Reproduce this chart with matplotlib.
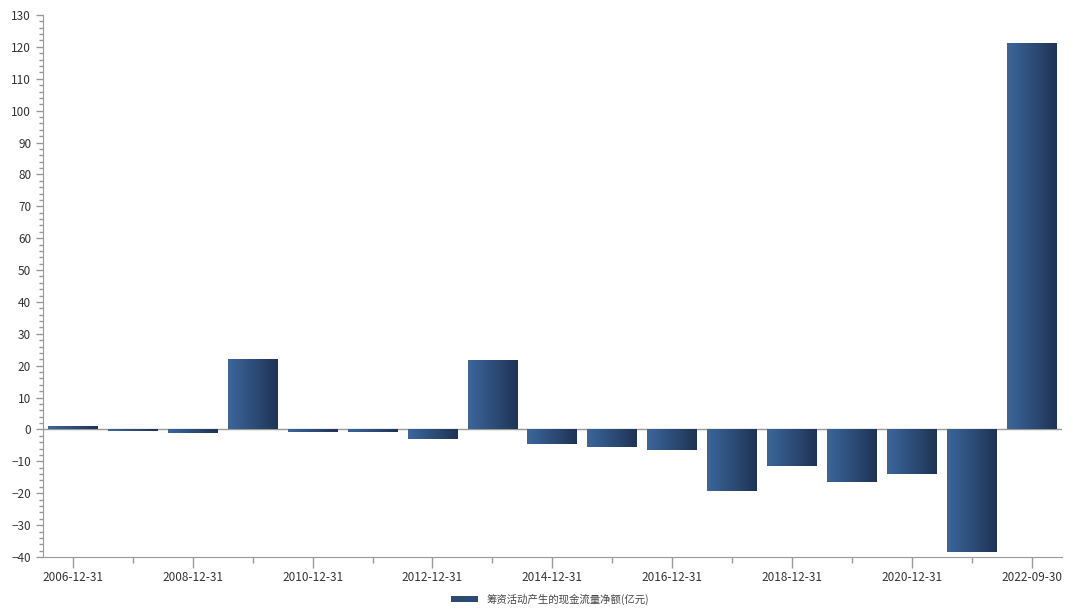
import numpy as np
import matplotlib
matplotlib.use('Agg')
import matplotlib.pyplot as plt
from matplotlib.colors import LinearSegmentedColormap
from matplotlib.ticker import MultipleLocator, FixedLocator

plt.rcParams['font.family'] = ['Noto Sans CJK SC', 'DejaVu Sans']

## data ##
dates = ['2006-12-31', '2007-12-31', '2008-12-31', '2009-12-31', '2010-12-31',
         '2011-12-31', '2012-12-31', '2013-12-31', '2014-12-31', '2015-12-31',
         '2016-12-31', '2017-12-31', '2018-12-31', '2019-12-31', '2020-12-31',
         '2021-12-31', '2022-09-30']
values = [0.7, -0.5, -1.2, 21.8, -0.7, -0.9, -3.0, 21.5, -4.7, -5.5,
          -6.4, -19.2, -11.6, -16.5, -13.9, -38.5, 121.0]
label = '筹资活动产生的现金流量净额(亿元)'

grad = LinearSegmentedColormap.from_list('bar', ['#3b679c', '#1f3354'])
gline = '#999999'

fig = plt.figure(figsize=(10.8, 6.14), dpi=100)
ax = fig.add_axes([0.0398, 0.0928, 0.9432, 0.8828])

x = np.arange(len(dates))
bars = ax.bar(x, values, width=0.83, color='none', edgecolor='none', zorder=2)

# gradient fill, left light -> right dark
g = np.linspace(0, 1, 256).reshape(1, -1)
for b in bars:
    x0, y0 = b.get_x(), b.get_y()
    w, h = b.get_width(), b.get_height()
    ax.imshow(g, cmap=grad, aspect='auto', zorder=2,
              extent=[x0, x0 + w, min(y0, y0 + h), max(y0, y0 + h)])

ax.axhline(0, color=gline, lw=1, zorder=1)

ax.set_xlim(-0.5, len(dates) - 0.5)
ax.set_ylim(-40, 130)

ax.yaxis.set_major_locator(MultipleLocator(10))
ax.yaxis.set_minor_locator(MultipleLocator(2))
ax.xaxis.set_major_locator(FixedLocator(x[::2]))
ax.xaxis.set_minor_locator(FixedLocator(x[1::2]))
ax.set_xticklabels([dates[i] for i in x[::2]])

for s in ['top', 'right']:
    ax.spines[s].set_visible(False)
for s in ['left', 'bottom']:
    ax.spines[s].set_color(gline)

ax.tick_params(axis='both', which='major', labelsize=8.5, labelcolor='#333333',
               color=gline, length=5, width=1)
ax.tick_params(axis='both', which='minor', color=gline, length=3, width=1)
ax.tick_params(axis='x', which='major', length=8, pad=2)
ax.tick_params(axis='x', which='minor', length=4)

ax.legend([plt.Rectangle((0, 0), 1, 1, facecolor='#2c4a75')], [label],
          loc='upper center', bbox_to_anchor=(0.498, -0.05), frameon=False,
          fontsize=7.5, handlelength=2.6, handleheight=0.6, handletextpad=0.8,
          labelcolor='#444444')

fig.savefig('out.png', dpi=100)
